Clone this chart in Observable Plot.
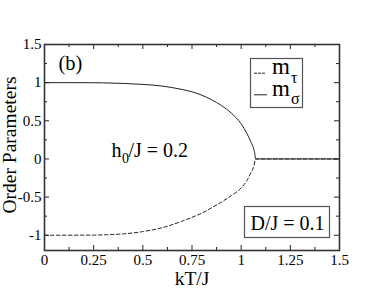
<!DOCTYPE html>
<html><head><meta charset="utf-8">
<script src="https://cdn.jsdelivr.net/npm/d3@7"></script>
<script src="https://cdn.jsdelivr.net/npm/@observablehq/plot@0.6"></script>
<style>
html,body{margin:0;padding:0;background:#fff;}
#chart{width:382px;height:295px;}
</style></head><body><div id="chart"></div>
<script>
// m_sigma (solid)
const tSigma = [0, 0.25, 0.3, 0.4, 0.5, 0.6, 0.7, 0.75, 0.8, 0.85, 0.9, 0.95, 1.0, 1.03, 1.05, 1.065, 1.07, 1.073, 1.5];
const mSigma = [1, 0.999, 0.997, 0.99, 0.977, 0.955, 0.91, 0.88, 0.835, 0.775, 0.7, 0.6, 0.46, 0.33, 0.22, 0.12, 0.06, 0, 0];
// m_tau (dashed)
const tTau = [0, 0.25, 0.3, 0.4, 0.5, 0.6, 0.7, 0.75, 0.8, 0.85, 0.9, 0.95, 1.0, 1.03, 1.05, 1.065, 1.073, 1.5];
const mTau = [-1, -0.998, -0.995, -0.982, -0.952, -0.9, -0.815, -0.765, -0.71, -0.64, -0.565, -0.48, -0.38, -0.28, -0.18, -0.09, 0, 0];

const xTicks = [0, 0.25, 0.5, 0.75, 1, 1.25, 1.5];
const xMinor = [0.125, 0.375, 0.625, 0.875, 1.125, 1.375];
const yTicks = [-1, -0.5, 0, 0.5, 1, 1.5];
const yMinor = [-0.75, -0.25, 0.25, 0.75, 1.25];

const sigmaRows = tSigma.map((t, i) => ({t, m: mSigma[i]}));
const tauRows = tTau.map((t, i) => ({t, m: mTau[i]}));

const serif = "'Liberation Serif', 'Times New Roman', serif";
const ink = "#222";

const chart = Plot.plot({
  width: 382, height: 295,
  marginLeft: 44, marginRight: 43, marginTop: 44, marginBottom: 45,
  style: {fontFamily: serif, fontSize: "15px", background: "white", color: "black"},
  x: {domain: [0, 1.5]},
  y: {domain: [-1.2, 1.5]},
  marks: [
    // curves
    Plot.line(tauRows, {x: "t", y: "m", stroke: ink, strokeWidth: 1, strokeDasharray: "3.5,2.5", curve: "monotone-x"}),
    Plot.line(sigmaRows, {x: "t", y: "m", stroke: ink, strokeWidth: 1, curve: "monotone-x"}),
    // inward ticks
    Plot.tickX(xTicks, {x: d => d, stroke: ink, insetTop: 201}),
    Plot.tickX(xTicks, {x: d => d, stroke: ink, insetBottom: 201}),
    Plot.tickX(xMinor, {x: d => d, stroke: ink, insetTop: 203}),
    Plot.tickX(xMinor, {x: d => d, stroke: ink, insetBottom: 203}),
    Plot.tickY(yTicks, {y: d => d, stroke: ink, insetLeft: 290}),
    Plot.tickY(yTicks, {y: d => d, stroke: ink, insetRight: 290}),
    Plot.tickY(yMinor, {y: d => d, stroke: ink, insetLeft: 292}),
    Plot.tickY(yMinor, {y: d => d, stroke: ink, insetRight: 292}),
    // axes labels
    Plot.axisX(xTicks, {tickSize: 0, tickPadding: 3.5, fontSize: 15, tickFormat: d => String(d), label: null}),
    Plot.axisY(yTicks, {tickSize: 0, tickPadding: 3, fontSize: 15, tickFormat: d => String(d), label: null}),
    Plot.text(["kT/J"], {frameAnchor: "bottom", dy: 34, text: d => d, fontSize: 19.5, textAnchor: "middle", lineAnchor: "bottom", fill: "black"}),
    Plot.text(["Order Parameters"], {frameAnchor: "left", dx: -29, dy: -2.5, rotate: -90, text: d => d, fontSize: 19.5, textAnchor: "middle", lineAnchor: "bottom", fill: "black"}),
    // annotations
    Plot.text(["(b)"], {frameAnchor: "top-left", dx: 14, dy: 25, text: d => d, fontSize: 20.5, textAnchor: "start", lineAnchor: "bottom", fill: "black"}),
    Plot.text(["h"], {frameAnchor: "top-left", dx: 67, dy: 112, text: d => d, fontSize: 20, textAnchor: "start", lineAnchor: "bottom", fill: "black"}),
    Plot.text(["0"], {frameAnchor: "top-left", dx: 77.5, dy: 118, text: d => d, fontSize: 14, textAnchor: "start", lineAnchor: "bottom", fill: "black"}),
    Plot.text(["/J = 0.2"], {frameAnchor: "top-left", dx: 84, dy: 112, text: d => d, fontSize: 20, textAnchor: "start", lineAnchor: "bottom", fill: "black"}),
    // legend box
    Plot.frame({stroke: "#555", strokeWidth: 1.2, insetLeft: 206, insetRight: 37, insetTop: 14, insetBottom: 143}),
    Plot.frame({anchor: "top", stroke: ink, strokeWidth: 1, strokeDasharray: "2,2", insetLeft: 210, insetRight: 73, insetTop: 28.7}),
    Plot.frame({anchor: "top", stroke: ink, strokeWidth: 1, insetLeft: 210, insetRight: 73, insetTop: 50.3}),
    Plot.text(["m"], {frameAnchor: "top-left", dx: 227.5, dy: 29, text: d => d, fontSize: 23, textAnchor: "start", lineAnchor: "bottom", fill: "black"}),
    Plot.text(["τ"], {frameAnchor: "top-left", dx: 246.5, dy: 38, text: d => d, fontSize: 16, textAnchor: "start", lineAnchor: "bottom", fill: "black"}),
    Plot.text(["m"], {frameAnchor: "top-left", dx: 227.5, dy: 51, text: d => d, fontSize: 23, textAnchor: "start", lineAnchor: "bottom", fill: "black"}),
    Plot.text(["σ"], {frameAnchor: "top-left", dx: 246.5, dy: 59.5, text: d => d, fontSize: 16, textAnchor: "start", lineAnchor: "bottom", fill: "black"}),
    // D/J box
    Plot.frame({stroke: "#555", strokeWidth: 1.2, insetLeft: 200, insetRight: 10, insetTop: 162, insetBottom: 13}),
    Plot.text(["D/J = 0.1"], {frameAnchor: "top-left", dx: 206, dy: 185.3, text: d => d, fontSize: 20, textAnchor: "start", lineAnchor: "bottom", fill: "black"}),
    // plot frame
    Plot.frame({stroke: "#333", strokeWidth: 1.6})
  ]
});
document.getElementById("chart").appendChild(chart);
</script>
</body></html>
